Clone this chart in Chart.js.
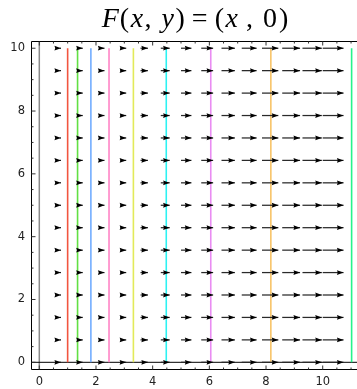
<!DOCTYPE html>
<html>
<head>
<meta charset="utf-8">
<script src="https://cdn.jsdelivr.net/npm/chart.js@4/dist/chart.umd.min.js"></script>
<style>
  html, body { margin: 0; padding: 0; background: #fff; overflow: hidden; }
  #wrap { width: 357px; height: 389px; }
</style>
</head>
<body>
<div id="wrap"><canvas id="c"></canvas></div>
<script>
// Sample points of the vector field F(x, y) = (x, 0)
const gridX = [0, 0.714, 1.429, 2.143, 2.857, 3.571, 4.286, 5, 5.714, 6.429, 7.143, 7.857, 8.571, 9.286, 10];
const gridY = [0, 0.714, 1.429, 2.143, 2.857, 3.571, 4.286, 5, 5.714, 6.429, 7.143, 7.857, 8.571, 9.286, 10];
// horizontal component of F at each column (vertical component is 0)
const fieldU = [0, 0.714, 1.429, 2.143, 2.857, 3.571, 4.286, 5, 5.714, 6.429, 7.143, 7.857, 8.571, 9.286, 10];
const fieldV = [0, 0, 0, 0, 0, 0, 0, 0, 0, 0, 0, 0, 0, 0, 0];

// Vertical segment x = 1 carried along the flow, at successive times
const flowX = [1, 1.35, 1.82, 2.46, 3.32, 4.48, 6.05, 8.17, 11.02];
const flowY = [0, 10];
const flowColors = ['#f2553f', '#62e043', '#72adff', '#ff84c6', '#e2ea5a', '#2cf2f2', '#e98cf2', '#f8c468', '#26f38a'];

const xTickValues = [0, 2, 4, 6, 8, 10];
const xTickLabels = ['0', '2', '4', '6', '8', '10'];
const yTickValues = [0, 2, 4, 6, 8, 10];
const yTickLabels = ['0', '2', '4', '6', '8', '10'];

const arrowScale = 0.0735;

const datasets = flowX.map((x, i) => ({
  data: flowY.map(y => ({ x: x, y: y })),
  showLine: true,
  borderColor: flowColors[i],
  borderWidth: 1.6,
  pointRadius: 0,
  fill: false
}));

// Axes through the origin, drawn under everything else
const axesPlugin = {
  id: 'originAxes',
  beforeDatasetsDraw(chart) {
    const { ctx, chartArea: a, scales: { x, y } } = chart;
    ctx.save();
    ctx.strokeStyle = '#8a8a8a';
    ctx.lineWidth = 1.5;
    const px = x.getPixelForValue(0);
    ctx.beginPath(); ctx.moveTo(px, a.top); ctx.lineTo(px, a.bottom); ctx.stroke();
    ctx.strokeStyle = '#000';
    ctx.lineWidth = 1;
    const py = y.getPixelForValue(0);
    ctx.beginPath(); ctx.moveTo(a.left, py); ctx.lineTo(a.right, py); ctx.stroke();
    ctx.restore();
  }
};

// Field arrows: tail at the sample point, head at tail + scaled vector
const arrowPlugin = {
  id: 'fieldArrows',
  afterDatasetsDraw(chart) {
    const { ctx, scales: { x, y } } = chart;
    const headLen = 6.6, headHalf = 2.4;
    ctx.save();
    ctx.strokeStyle = '#2a2a2a';
    ctx.fillStyle = '#000';
    ctx.lineWidth = 1.25;
    gridY.forEach(gy => {
      gridX.forEach((gx, i) => {
        const u = fieldU[i], v = fieldV[i];
        if (u === 0 && v === 0) return;
        const x0 = x.getPixelForValue(gx), y0 = y.getPixelForValue(gy);
        const x1 = x.getPixelForValue(gx + u * arrowScale), y1 = y.getPixelForValue(gy + v * arrowScale);
        const ang = Math.atan2(y1 - y0, x1 - x0);
        ctx.beginPath(); ctx.moveTo(x0, y0); ctx.lineTo(x1, y1); ctx.stroke();
        const bx = x1 - headLen * Math.cos(ang), by = y1 - headLen * Math.sin(ang);
        const nx = -Math.sin(ang) * headHalf, ny = Math.cos(ang) * headHalf;
        ctx.beginPath();
        ctx.moveTo(x1, y1);
        ctx.lineTo(bx + nx, by + ny);
        ctx.lineTo(bx + 0.8 * Math.cos(ang), by + 0.8 * Math.sin(ang));
        ctx.lineTo(bx - nx, by - ny);
        ctx.closePath();
        ctx.fill();
      });
    });
    ctx.restore();
  }
};

// Frame with inward ticks, and the title
const framePlugin = {
  id: 'frameAndTitle',
  afterDraw(chart) {
    const { ctx, chartArea: a, scales: { x, y } } = chart;
    ctx.save();
    ctx.strokeStyle = '#000';
    ctx.lineWidth = 1;
    const L = Math.round(a.left) + 0.5, T = Math.round(a.top) + 0.5, B = Math.round(a.bottom) - 0.5, R = a.right + 2;
    ctx.beginPath();
    ctx.moveTo(R, T); ctx.lineTo(L, T); ctx.lineTo(L, B); ctx.lineTo(R, B);
    ctx.stroke();
    ctx.strokeStyle = '#333';
    for (let v = 0; v <= x.max; v += 0.5) {
      const p = x.getPixelForValue(v);
      const len = xTickValues.includes(v) ? 4 : 2;
      ctx.beginPath(); ctx.moveTo(p, B); ctx.lineTo(p, B - len); ctx.stroke();
      ctx.beginPath(); ctx.moveTo(p, T); ctx.lineTo(p, T + len); ctx.stroke();
    }
    for (let v = 0; v <= y.max; v += 0.5) {
      const p = y.getPixelForValue(v);
      const len = yTickValues.includes(v) ? 4 : 2;
      ctx.beginPath(); ctx.moveTo(L, p); ctx.lineTo(L + len, p); ctx.stroke();
    }

    // Title: F(x, y) = (x , 0) with italic variables; each part carries extra space after it
    const parts = [['F', 1, 1], ['(', 0, 1.5], ['x', 1, 1.5], [',', 0, 10], ['y', 1, 1.5], [')', 0, 7],
                   ['=', 0, 7], ['(', 0, 1.5], ['x', 1, 8], [',', 0, 10], ['0', 0, 2], [')', 0, 0]];
    const up = '28px "Liberation Serif", "Times New Roman", serif';
    const it = 'italic 28px "Liberation Serif", "Times New Roman", serif';
    let total = 0;
    parts.forEach(([t, i, g]) => { ctx.font = i ? it : up; total += ctx.measureText(t).width + g; });
    let cx = 195 - total / 2;
    ctx.fillStyle = '#000';
    ctx.textBaseline = 'alphabetic';
    ctx.textAlign = 'left';
    parts.forEach(([t, i, g]) => {
      ctx.font = i ? it : up;
      ctx.fillText(t, cx, 27);
      cx += ctx.measureText(t).width + g;
    });
    ctx.restore();
  }
};

new Chart(document.getElementById('c'), {
  type: 'scatter',
  data: { datasets },
  options: {
    responsive: true,
    maintainAspectRatio: false,
    animation: false,
    events: [],
    layout: { padding: { top: 41, right: 0, left: 0, bottom: 0 } },
    plugins: { legend: { display: false }, tooltip: { enabled: false }, title: { display: false } },
    scales: {
      x: {
        type: 'linear',
        min: -0.293,
        max: 11.21,
        afterFit(s) { s.height = 19; },
        afterBuildTicks(s) { s.ticks = xTickValues.map(v => ({ value: v })); },
        grid: { display: false, drawTicks: false },
        border: { display: false },
        ticks: {
          includeBounds: false,
          padding: 5,
          color: '#222',
          font: { family: '"DejaVu Sans", sans-serif', size: 11.5 },
          maxRotation: 0,
          callback: (v) => xTickLabels[xTickValues.indexOf(v)]
        }
      },
      y: {
        type: 'linear',
        min: -0.245,
        max: 10.23,
        afterFit(s) { s.width = 31; },
        afterBuildTicks(s) { s.ticks = yTickValues.map(v => ({ value: v })); },
        grid: { display: false, drawTicks: false },
        border: { display: false },
        ticks: {
          includeBounds: false,
          padding: 6,
          color: '#222',
          font: { family: '"DejaVu Sans", sans-serif', size: 11.5 },
          callback: (v) => yTickLabels[yTickValues.indexOf(v)]
        }
      }
    }
  },
  plugins: [axesPlugin, arrowPlugin, framePlugin]
});
</script>
</body>
</html>
